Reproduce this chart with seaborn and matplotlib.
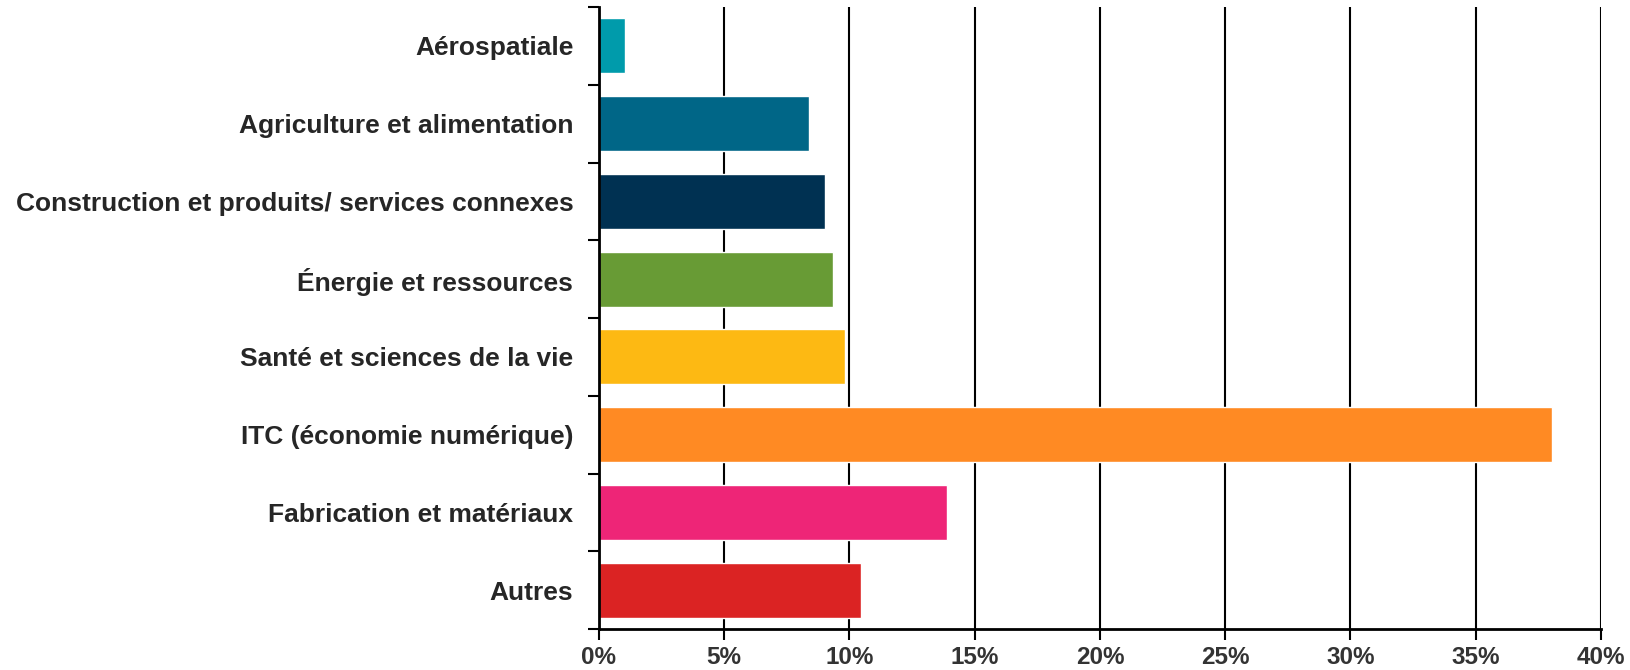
import numpy as np
import pandas as pd
import matplotlib
matplotlib.use("Agg")
import matplotlib.pyplot as plt
import seaborn as sns

# values (share of companies, %)
sectors = ["Aérospatiale", "Agriculture et alimentation",
           "Construction et produits/ services connexes", "Énergie et ressources",
           "Santé et sciences de la vie", "ITC (économie numérique)",
           "Fabrication et matériaux", "Autres"]
shares = [1.04, 8.38, 9.02, 9.35, 9.82, 38.05, 13.88, 10.46]
colors = ["#009BAB", "#006687", "#003152", "#689B35", "#FDB913",
          "#FF8A23", "#EE2577", "#DB2323"]
xticks = [0, 5, 10, 15, 20, 25, 30, 35, 40]

sns.set_theme(style="white")
plt.rcParams["font.family"] = ["Liberation Sans", "DejaVu Sans"]

df = pd.DataFrame({"sector": sectors, "share": shares})

fig = plt.figure(figsize=(16.31, 6.70), dpi=100)
ax = fig.add_axes([599 / 1631, 1 - 629 / 670, 1002 / 1631, 622 / 670])

sns.barplot(data=df, x="share", y="sector", hue="sector", palette=colors,
            orient="h", width=0.71, legend=False, ax=ax, saturation=1)

ax.set_xlim(0, 40)
ax.set_ylim(7.5, -0.5)
ax.set_xticks(xticks)
ax.set_xticklabels([f"{t}%" for t in xticks], fontsize=17.5, fontweight="bold", color="#333333")
ax.set_yticks(range(len(sectors)))
ax.set_yticklabels(sectors, fontsize=19, fontweight="bold", color="#262626")
ax.set_yticks(np.arange(-0.5, len(sectors)), minor=True)
ax.tick_params(axis="y", which="major", length=0, pad=18.5)
ax.tick_params(axis="y", which="minor", length=8, width=1.5, color="black", direction="out", left=True)
ax.tick_params(axis="x", length=8, width=1.5, color="black", direction="out", bottom=True, pad=4)
ax.set_xlabel("")
ax.set_ylabel("")

ax.grid(axis="x", color="black", linewidth=1.5)
ax.set_axisbelow(True)
for s in ["top", "right"]:
    ax.spines[s].set_visible(False)
for s in ["left", "bottom"]:
    ax.spines[s].set_color("black")
    ax.spines[s].set_linewidth(2)

fig.savefig("out.png", dpi=100)
